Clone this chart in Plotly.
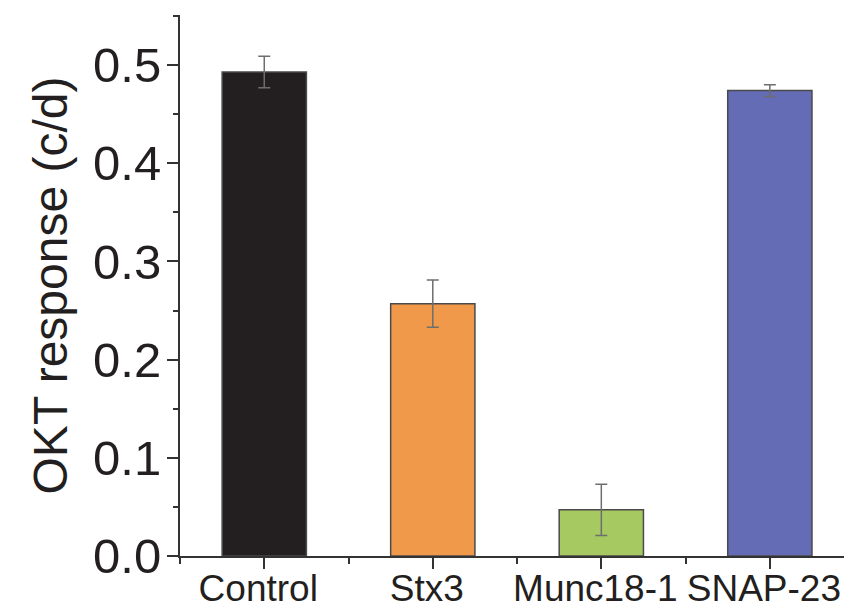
import plotly.graph_objects as go

categories = ["Control", "Stx3", "Munc18-1", "SNAP-23"]
values = [0.493, 0.257, 0.047, 0.474]
errors = [0.016, 0.024, 0.026, 0.006]
colors = ["#231f20", "#f0994a", "#a7c962", "#646cb6"]
y_tickvals = [0.0, 0.1, 0.2, 0.3, 0.4, 0.5]
y_ticktext = ["0.0", "0.1", "0.2", "0.3", "0.4", "0.5"]

positions = list(range(len(categories)))

fig = go.Figure(go.Bar(
    x=positions,
    y=values,
    width=0.5,
    marker=dict(color=colors, line=dict(color="#4a4a4a", width=1.5)),
    error_y=dict(type="data", array=errors, visible=True,
                 color="#6e6e6e", thickness=1.5, width=6),
))

axis_color = "#333333"
font_color = "#231f20"

fig.update_layout(
    width=844, height=610,
    margin=dict(l=180, r=0, t=15, b=54),
    plot_bgcolor="white", paper_bgcolor="white",
    font=dict(family="Liberation Sans, Arial, sans-serif", color=font_color),
    showlegend=False,
    xaxis=dict(
        range=[-0.5, 3.44],
        automargin=False,
        tickmode="array", tickvals=positions, ticktext=categories,
        tickfont=dict(size=37),
        showline=True, linecolor=axis_color, linewidth=2,
        ticks="outside", ticklen=11, tickwidth=2, tickcolor=axis_color,
        minor=dict(tickmode="array", tickvals=[p - 0.5 for p in positions] + [positions[-1] + 0.5],
                   ticks="outside", ticklen=6, tickwidth=2, tickcolor=axis_color),
        showgrid=False, zeroline=False,
        ticklabelstandoff=-12,
        ticklabelshift=-6,
        ticklabeloverflow="allow",
    ),
    yaxis=dict(
        range=[0, 0.551],
        automargin=False,
        tickmode="array", tickvals=y_tickvals, ticktext=y_ticktext,
        tickfont=dict(size=49),
        showline=True, linecolor=axis_color, linewidth=2,
        ticks="outside", ticklen=11, tickwidth=2, tickcolor=axis_color,
        minor=dict(tickmode="array", tickvals=[0.05, 0.15, 0.25, 0.35, 0.45, 0.55],
                   ticks="outside", ticklen=5, tickwidth=2, tickcolor=axis_color),
        showgrid=False, zeroline=False,
        title=dict(text="OKT response (c/d)", font=dict(size=48), standoff=10),
        ticklabelstandoff=-4,
        ticklabeloverflow="allow",
    ),
)

fig.write_html("out.html", config={"displayModeBar": False},
               post_script="document.body.style.margin='0';")
